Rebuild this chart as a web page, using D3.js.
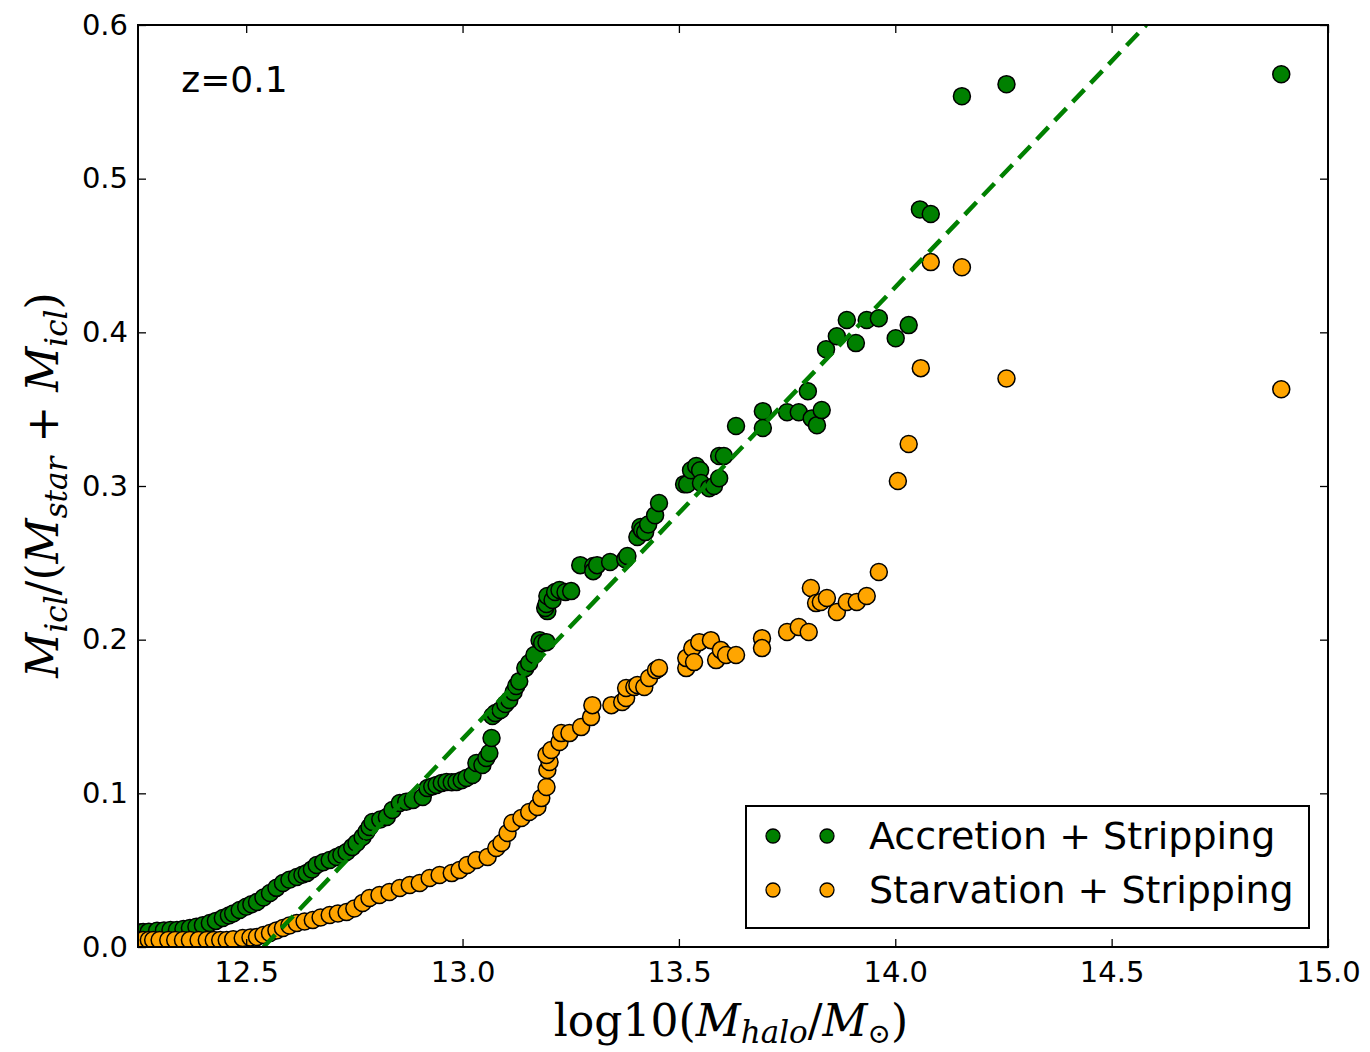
<!DOCTYPE html>
<html>
<head>
<meta charset="utf-8">
<script src="https://cdn.jsdelivr.net/npm/d3@7"></script>
<style>
  body { margin: 0; background: #fff; }
  text { font-family: "DejaVu Sans", sans-serif; fill: #000; }
  .math { font-family: "DejaVu Serif", "Liberation Serif", serif; }
</style>
</head>
<body>
<svg id="chart"></svg>
<script>
// Canvas size
const width = 1370;
const height = 1052;
const margin = { top: 25, right: 42, bottom: 105, left: 138 };

// Accretion + Stripping: halo mass (log10) and ICL fraction
const accretionX = [12.255, 12.262, 12.275, 12.294, 12.31, 12.325, 12.34, 12.355, 12.37, 12.385,
  12.40, 12.416, 12.43, 12.446, 12.46, 12.47, 12.485, 12.50, 12.512, 12.525, 12.54, 12.555,
  12.57, 12.585, 12.60, 12.617, 12.63, 12.640, 12.652, 12.663, 12.678, 12.693, 12.709, 12.72,
  12.732, 12.745, 12.755, 12.769, 12.778, 12.785, 12.792, 12.81, 12.825, 12.838, 12.855,
  12.87, 12.885, 12.908, 12.919, 12.93, 12.940, 12.952, 12.963, 12.975, 12.986, 12.998, 13.009,
  13.023, 13.032, 13.046, 13.055, 13.062, 13.067, 13.069, 13.076, 13.088, 13.099, 13.108,
  13.118, 13.124, 13.131, 13.145, 13.154, 13.166, 13.178, 13.184, 13.194, 13.196, 13.191,
  13.194, 13.196, 13.208, 13.214, 13.224, 13.238, 13.251, 13.272, 13.302, 13.302, 13.311,
  13.341, 13.376, 13.381, 13.404, 13.411, 13.415, 13.422, 13.429, 13.445, 13.454, 13.512,
  13.519, 13.528, 13.540, 13.549, 13.551, 13.570, 13.581, 13.593, 13.593, 13.604, 13.632,
  13.694, 13.694, 13.750, 13.777, 13.798, 13.807, 13.819, 13.830, 13.840, 13.865, 13.888,
  13.909, 13.934, 13.962, 14.001, 14.031, 14.057, 14.082, 14.154, 14.257, 14.892];
const accretionY = [0.0095, 0.0098, 0.0100, 0.0105, 0.0108, 0.0110, 0.0111, 0.0117, 0.0124, 0.0132,
  0.0142, 0.0156, 0.0170, 0.0189, 0.0205, 0.0218, 0.0241, 0.0262, 0.0278, 0.0293, 0.0322, 0.0351,
  0.0385, 0.0416, 0.0438, 0.0455, 0.0470, 0.0481, 0.0505, 0.0534, 0.0552, 0.0566, 0.0586, 0.0600,
  0.0618, 0.0650, 0.0677, 0.0716, 0.0750, 0.0781, 0.0813, 0.0830, 0.0846, 0.0891, 0.0937,
  0.0945, 0.0956, 0.0976, 0.1034, 0.1045, 0.1054, 0.1068, 0.1074, 0.1072, 0.1074, 0.1085, 0.1100,
  0.1119, 0.1197, 0.1184, 0.1230, 0.1262, 0.1360, 0.1503, 0.1522, 0.1542, 0.1581, 0.1607,
  0.1659, 0.1698, 0.1730, 0.1815, 0.1848, 0.1900, 0.1997, 0.1978, 0.1984, 0.2186, 0.2206,
  0.2232, 0.2284, 0.2258, 0.2310, 0.2323, 0.2310, 0.2316, 0.2485, 0.2479, 0.2446, 0.2485,
  0.2505, 0.2524, 0.2544, 0.2668, 0.2733, 0.2713, 0.2700, 0.2750, 0.2810, 0.2889, 0.3012,
  0.3012, 0.3103, 0.3130, 0.3103, 0.3020, 0.2986, 0.3000, 0.3050, 0.3195, 0.3195, 0.3390,
  0.3487, 0.3377, 0.3480, 0.3480, 0.3617, 0.3440, 0.3396, 0.3494, 0.3890, 0.3975, 0.4080,
  0.3930, 0.4080, 0.4092, 0.3962, 0.4047, 0.4800, 0.4770, 0.5537, 0.5615, 0.5680];

// Starvation + Stripping: halo mass (log10) and ICL fraction
const starvationX = [12.255, 12.262, 12.275, 12.285, 12.30, 12.32, 12.336, 12.354, 12.37, 12.39,
  12.409, 12.425, 12.44, 12.455, 12.47, 12.492, 12.51, 12.525, 12.54, 12.555, 12.57, 12.585,
  12.60, 12.617, 12.635, 12.654, 12.672, 12.693, 12.712, 12.732, 12.75, 12.769, 12.785, 12.808,
  12.831, 12.855, 12.878, 12.901, 12.924, 12.947, 12.975, 12.993, 13.011, 13.032, 13.058,
  13.078, 13.090, 13.104, 13.115, 13.136, 13.154, 13.173, 13.182, 13.194, 13.196, 13.201,
  13.194, 13.205, 13.224, 13.228, 13.247, 13.274, 13.297, 13.300, 13.344, 13.369, 13.378,
  13.378, 13.397, 13.404, 13.420, 13.431, 13.447, 13.454, 13.517, 13.517, 13.531, 13.535,
  13.547, 13.574, 13.586, 13.597, 13.609, 13.632, 13.692, 13.692, 13.750, 13.777, 13.800,
  13.805, 13.817, 13.828, 13.842, 13.865, 13.888, 13.911, 13.934, 13.962, 14.006, 14.031,
  14.059, 14.082, 14.154, 14.257, 14.892];
const starvationY = [0.0045, 0.0046, 0.0046, 0.0046, 0.0046, 0.0046, 0.0046, 0.0046, 0.0046, 0.0046,
  0.0046, 0.0046, 0.0046, 0.0046, 0.0050, 0.0059, 0.0062, 0.0065, 0.0078, 0.0091, 0.0108, 0.0124,
  0.0140, 0.0156, 0.0166, 0.0176, 0.0192, 0.0208, 0.0218, 0.0228, 0.0250, 0.0286, 0.0319, 0.0338,
  0.0358, 0.0384, 0.0403, 0.0416, 0.0449, 0.0468, 0.0481, 0.0501, 0.0534, 0.0566, 0.0586,
  0.0644, 0.0677, 0.0742, 0.0807, 0.0839, 0.0878, 0.0911, 0.0969, 0.1041, 0.1152, 0.1204,
  0.1249, 0.1282, 0.1334, 0.1392, 0.1392, 0.1431, 0.1496, 0.1574, 0.1574, 0.1594, 0.1620,
  0.1685, 0.1692, 0.1705, 0.1692, 0.1750, 0.1802, 0.1815, 0.1815, 0.1880, 0.1945, 0.1854,
  0.1984, 0.1997, 0.1867, 0.1932, 0.1900, 0.1900, 0.2010, 0.1945, 0.2050, 0.2082, 0.2050,
  0.2336, 0.2238, 0.2245, 0.2271, 0.2180, 0.2245, 0.2245, 0.2284, 0.2440, 0.3032, 0.3273,
  0.3767, 0.4457, 0.4424, 0.3700, 0.3630];

// Dashed fit line end points
const fitX = [12.54, 14.58];
const fitY = [0.0, 0.6];

const xTicks = [12.5, 13.0, 13.5, 14.0, 14.5, 15.0];
const yTicks = [0.0, 0.1, 0.2, 0.3, 0.4, 0.5, 0.6];

const seriesNames = ["Accretion + Stripping", "Starvation + Stripping"];
const seriesColors = ["#008000", "#ffa500"];

const svg = d3.select("#chart")
    .attr("width", width)
    .attr("height", height);

const plotW = width - margin.left - margin.right;
const plotH = height - margin.top - margin.bottom;

const x = d3.scaleLinear().domain([12.25, 15.0]).range([margin.left, margin.left + plotW]);
const y = d3.scaleLinear().domain([0, 0.6]).range([margin.top + plotH, margin.top]);

// Clip for the plot area
svg.append("defs").append("clipPath").attr("id", "clip")
    .append("rect")
    .attr("x", margin.left).attr("y", margin.top)
    .attr("width", plotW).attr("height", plotH);

const plot = svg.append("g").attr("clip-path", "url(#clip)");

// Scatter points, green first then orange
const series = [
    d3.zip(accretionX, accretionY),
    d3.zip(starvationX, starvationY)
];

series.forEach((pts, i) => {
    plot.append("g")
        .selectAll("circle")
        .data(pts)
        .enter()
        .append("circle")
        .attr("cx", d => x(d[0]))
        .attr("cy", d => y(d[1]))
        .attr("r", 8.5)
        .attr("fill", seriesColors[i])
        .attr("stroke", "#000")
        .attr("stroke-width", 1.5);
});

// Dashed line on top
plot.append("path")
    .datum(d3.zip(fitX, fitY))
    .attr("d", d3.line().x(d => x(d[0])).y(d => y(d[1])))
    .attr("fill", "none")
    .attr("stroke", "#008000")
    .attr("stroke-width", 4.5)
    .attr("stroke-dasharray", "17,9");

// Axes with inward ticks on all four sides
const tickLen = 8;
const fmt = d3.format(".1f");

svg.append("g")
    .attr("transform", `translate(0,${margin.top + plotH})`)
    .call(d3.axisBottom(x).tickValues(xTicks).tickSize(-tickLen).tickPadding(14).tickFormat(fmt))
    .call(g => g.select(".domain").remove())
    .call(g => g.selectAll("text").attr("font-size", 29).attr("font-family", "DejaVu Sans"));

svg.append("g")
    .attr("transform", `translate(0,${margin.top})`)
    .call(d3.axisTop(x).tickValues(xTicks).tickSize(-tickLen).tickFormat(""))
    .call(g => g.select(".domain").remove());

svg.append("g")
    .attr("transform", `translate(${margin.left},0)`)
    .call(d3.axisLeft(y).tickValues(yTicks).tickSize(-tickLen).tickPadding(10).tickFormat(fmt))
    .call(g => g.select(".domain").remove())
    .call(g => g.selectAll("text").attr("font-size", 29).attr("font-family", "DejaVu Sans"));

svg.append("g")
    .attr("transform", `translate(${margin.left + plotW},0)`)
    .call(d3.axisRight(y).tickValues(yTicks).tickSize(-tickLen).tickFormat(""))
    .call(g => g.select(".domain").remove());

svg.selectAll(".tick line").attr("stroke", "#000").attr("stroke-width", 1.3);

// Frame
svg.append("rect")
    .attr("x", margin.left).attr("y", margin.top)
    .attr("width", plotW).attr("height", plotH)
    .attr("fill", "none")
    .attr("stroke", "#000")
    .attr("stroke-width", 2);

// Redshift note
svg.append("text")
    .attr("x", x(12.35)).attr("y", 92)
    .attr("font-size", 36)
    .text("z=0.1");

// Legend
const legend = svg.append("g");
legend.append("rect")
    .attr("x", 746).attr("y", 806)
    .attr("width", 563).attr("height", 122)
    .attr("fill", "#fff")
    .attr("stroke", "#000")
    .attr("stroke-width", 2);

seriesNames.forEach((name, i) => {
    const ly = 836 + i * 54;
    [773, 827].forEach(lx => {
        legend.append("circle")
            .attr("cx", lx).attr("cy", ly).attr("r", 7)
            .attr("fill", seriesColors[i])
            .attr("stroke", "#000")
            .attr("stroke-width", 1.3);
    });
    legend.append("text")
        .attr("x", 869).attr("y", ly + 13)
        .attr("font-size", 38)
        .text(name);
});

// Axis labels (math style)
const xl = svg.append("text")
    .attr("class", "math")
    .attr("x", 731).attr("y", 1036)
    .attr("text-anchor", "middle")
    .attr("font-size", 44);
xl.append("tspan").text("log10(");
xl.append("tspan").attr("font-style", "italic").text("M");
xl.append("tspan").attr("font-style", "italic").attr("font-size", 31).attr("dy", 7).text("halo");
xl.append("tspan").attr("dy", -7).text("/");
xl.append("tspan").attr("font-style", "italic").text("M");
xl.append("tspan").attr("font-size", 28).attr("dy", 7).text("\u2299");
xl.append("tspan").attr("dy", -7).text(")");

const yl = svg.append("text")
    .attr("class", "math")
    .attr("transform", "translate(58,485) rotate(-90)")
    .attr("text-anchor", "middle")
    .attr("font-size", 44);
yl.append("tspan").attr("font-style", "italic").text("M");
yl.append("tspan").attr("font-style", "italic").attr("font-size", 31).attr("dy", 9).text("icl");
yl.append("tspan").attr("dy", -9).text("/(");
yl.append("tspan").attr("font-style", "italic").text("M");
yl.append("tspan").attr("font-style", "italic").attr("font-size", 31).attr("dy", 9).text("star");
yl.append("tspan").attr("dy", -9).text(" + ");
yl.append("tspan").attr("font-style", "italic").text("M");
yl.append("tspan").attr("font-style", "italic").attr("font-size", 31).attr("dy", 9).text("icl");
yl.append("tspan").attr("dy", -9).text(")");
</script>
</body>
</html>
